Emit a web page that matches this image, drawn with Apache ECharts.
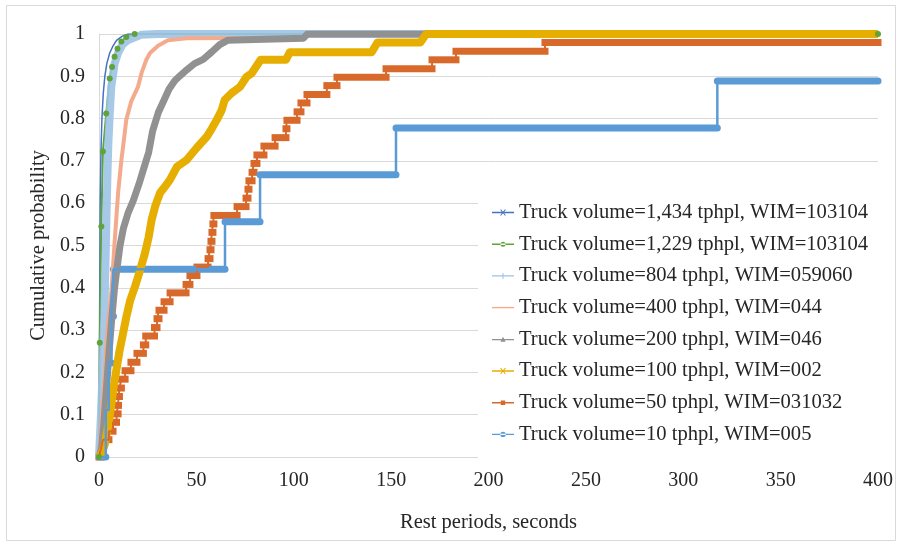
<!DOCTYPE html>
<html>
<head>
<meta charset="utf-8">
<script src="https://cdn.jsdelivr.net/npm/echarts@6/dist/echarts.min.js"></script>
<style>
  html, body { margin: 0; padding: 0; background: #fff; }
  #chart { width: 902px; height: 546px; }
</style>
</head>
<body>
<div id="chart"></div>
<script>
// Rest period (seconds) and cumulative probability for each truck volume.
const rest1434 = [0, 0.3, 0.6, 1, 1.5, 2.2, 3, 4, 5.5, 7, 9, 12, 15, 400];
const cdf1434  = [0, 0.32, 0.6, 0.72, 0.8, 0.86, 0.9, 0.93, 0.955, 0.97, 0.985, 0.995, 1, 1];

const rest1229 = [0, 0.4, 1.2, 2, 3.7, 5.5, 6.7, 8, 9.5, 11.5, 14, 18.3, 400];
const cdf1229  = [0, 0.27, 0.545, 0.722, 0.812, 0.895, 0.922, 0.946, 0.965, 0.982, 0.993, 1, 1];

const rest804 = [0, 1, 2, 2.8, 3.3, 3.8, 4.3, 4.8, 5.5, 6.3, 8, 9.8, 12, 15, 21.6, 30, 400];
const cdf804  = [0, 0.1, 0.22, 0.34, 0.45, 0.56, 0.66, 0.74, 0.81, 0.875, 0.93, 0.955, 0.975, 0.986, 0.998, 1, 1];

const rest400 = [0, 1.5, 3, 4.3, 6.3, 8, 9.8, 11.5, 12.8, 14, 16.5, 20, 22, 24.3, 26.2, 30.3, 35.4, 45, 105, 107, 400];
const cdf400  = [0, 0.1, 0.2, 0.3, 0.387, 0.506, 0.624, 0.702, 0.75, 0.797, 0.84, 0.875, 0.91, 0.939, 0.955, 0.972, 0.985, 0.99, 0.991, 1, 1];

const rest200 = [0, 1.3, 2.5, 3.9, 5.2, 6.5, 8, 9.2, 10.8, 12.5, 15, 17.5, 20.5, 23.5, 25.5, 27.5, 30.5, 33, 36, 39,
                 42, 45, 49, 53.5, 58, 62, 66, 80, 105, 107, 400];
const cdf200  = [0, 0.02, 0.08, 0.166, 0.25, 0.324, 0.4, 0.445, 0.5, 0.54, 0.578, 0.605, 0.645, 0.69, 0.72, 0.77, 0.815, 0.84, 0.87, 0.89,
                 0.903, 0.915, 0.93, 0.94, 0.958, 0.975, 0.985, 0.987, 0.99, 1, 1];

const rest100 = [0, 1.5, 3, 5.5, 7.5, 10.5, 14, 16, 18.5, 21, 23.6, 25.5, 27, 29, 31.3, 34, 36.4, 40, 45, 50,
                 55.3, 58, 60.5, 63, 64.5, 68, 72.4, 75.8, 78.4, 81, 83, 96, 98, 140, 143, 165, 168, 400];
const cdf100  = [0, 0.01, 0.03, 0.095, 0.166, 0.25, 0.33, 0.37, 0.403, 0.44, 0.482, 0.52, 0.56, 0.595, 0.624, 0.64, 0.655, 0.686, 0.702, 0.73,
                 0.757, 0.777, 0.797, 0.82, 0.844, 0.86, 0.875, 0.899, 0.907, 0.925, 0.939, 0.939, 0.957, 0.957, 0.98, 0.98, 1, 1];

// Step distributions: rest period at which each probability level starts.
const rest50 = [0, 1, 2, 5.1, 7.2, 9, 9.8, 10, 10.5, 11.5, 13.4, 16.4, 19.5, 22.8, 24, 28.5, 29.8, 30.8, 33.4, 36.5,
                44.7, 46.7, 50.3, 56, 57, 57.5, 58, 58.5, 59, 70.9, 75.5, 76.5, 77, 78.6, 79.6, 81.1, 84.7, 90.4, 96, 96.5,
                101.7, 103.7, 106.8, 117, 122.2, 147.4, 171, 183.3, 229];
const cdf50  = [0, 0.02, 0.041, 0.061, 0.082, 0.102, 0.122, 0.143, 0.163, 0.184, 0.204, 0.224, 0.245, 0.265, 0.286, 0.306, 0.327, 0.347, 0.367, 0.388,
                0.408, 0.429, 0.449, 0.469, 0.49, 0.51, 0.531, 0.551, 0.571, 0.592, 0.612, 0.633, 0.653, 0.673, 0.694, 0.714, 0.735, 0.755, 0.776, 0.796,
                0.816, 0.837, 0.857, 0.878, 0.898, 0.918, 0.939, 0.959, 0.98];

const rest10 = [0, 3.5, 5, 6.4, 7.4, 64.7, 82.7, 152.5, 317.5];
const cdf10  = [0, 0.111, 0.222, 0.333, 0.444, 0.556, 0.667, 0.778, 0.889];

const restMax = 400;

const seriesNames = [
  'Truck volume=1,434 tphpl, WIM=103104',
  'Truck volume=1,229 tphpl, WIM=103104',
  'Truck volume=804 tphpl, WIM=059060',
  'Truck volume=400 tphpl, WIM=044',
  'Truck volume=200 tphpl, WIM=046',
  'Truck volume=100 tphpl, WIM=002',
  'Truck volume=50 tphpl, WIM=031032',
  'Truck volume=10 tphpl, WIM=005'
];
const seriesColors = ['#4472C4', '#5FA33B', '#9DC3E6', '#F4AA8C', '#919191', '#E6AE00', '#D8692A', '#5B9BD5'];

// Legend glyphs: a line with the series marker in the middle.
const lineBar = 'M0,4.3h22v1.4h-22z';
const crossMark = 'M8,2h1.2l1.8,2.3l1.8,-2.3h1.2l-2.4,3l2.4,3h-1.2l-1.8,-2.3l-1.8,2.3h-1.2l2.4,-3z';
const legendIcons = [
  'path://' + lineBar + crossMark,
  'path://' + lineBar + 'M8.5,5a2.5,2.5 0 1,0 5,0a2.5,2.5 0 1,0 -5,0z',
  'path://' + lineBar + 'M10.5,2h1v6h-1z',
  'path://' + lineBar,
  'path://' + lineBar + 'M11,2.2L13.6,7.2L8.4,7.2z',
  'path://' + lineBar + crossMark,
  'path://' + lineBar + 'M8.8,2.8h4.4v4.4h-4.4z',
  'path://' + lineBar + 'M8.3,5a2.7,2.7 0 1,0 5.4,0a2.7,2.7 0 1,0 -5.4,0z'
];

const pairs = (xs, ys) => xs.map((x, i) => [x, ys[i]]);
const stepPairs = (xs, ys) => pairs(xs, ys).concat([[restMax, ys[ys.length - 1]]]);
// Each probability level as a run [from, to, level].
const levelRuns = (xs, ys) => xs.map((x, i) => [x, i + 1 < xs.length ? xs[i + 1] : restMax, ys[i]]);

const font = "'Liberation Serif', 'Times New Roman', serif";
const textColor = '#262626';
const gridColor = '#D9D9D9';

function curve(idx, xs, ys, width, extra) {
  return Object.assign({
    name: seriesNames[idx],
    type: 'line',
    data: pairs(xs, ys),
    showSymbol: false,
    symbol: 'none',
    color: seriesColors[idx],
    lineStyle: { width: width, color: seriesColors[idx], join: 'round' },
    emphasis: { disabled: true },
    silent: true
  }, extra || {});
}

// Dense markers along a step level drawn as one band.
function runBands(idx, xs, ys, thickness, rounded) {
  return {
    name: seriesNames[idx],
    type: 'custom',
    data: levelRuns(xs, ys),
    dimensions: ['from', 'to', 'level'],
    encode: { x: [0, 1], y: 2 },
    clip: false,
    silent: true,
    color: seriesColors[idx],
    renderItem: function (params, api) {
      const lvl = api.value(2);
      const a = api.coord([api.value(0), lvl]);
      const b = api.coord([api.value(1), lvl]);
      return {
        type: 'rect',
        shape: {
          x: a[0] - thickness / 2, y: a[1] - thickness / 2,
          width: b[0] - a[0] + thickness, height: thickness,
          r: rounded ? thickness / 2 : 0
        },
        style: { fill: seriesColors[idx] }
      };
    }
  };
}

const series = [
  curve(0, rest1434, cdf1434, 1.5),
  curve(1, rest1229, cdf1229, 2, {
    showSymbol: true, symbol: 'circle', symbolSize: 6,
    itemStyle: { color: seriesColors[1] }
  }),
  curve(2, rest804, cdf804, 8, { lineStyle: { width: 8, color: seriesColors[2], opacity: 0.9, join: 'round' } }),
  curve(3, rest400, cdf400, 4),
  curve(4, rest200, cdf200, 7),
  curve(5, rest100, cdf100, 8),
  // 50 tphpl: thin step line plus the marker bands along each level
  {
    name: seriesNames[6], type: 'line', step: 'end', data: stepPairs(rest50, cdf50),
    showSymbol: false, symbol: 'none', color: seriesColors[6],
    lineStyle: { width: 2, color: seriesColors[6] }, emphasis: { disabled: true }, silent: true
  },
  runBands(6, rest50, cdf50, 7, false),
  // 10 tphpl
  {
    name: seriesNames[7], type: 'line', step: 'end', data: stepPairs(rest10, cdf10),
    showSymbol: false, symbol: 'none', color: seriesColors[7],
    lineStyle: { width: 2.5, color: seriesColors[7] }, emphasis: { disabled: true }, silent: true
  },
  runBands(7, rest10, cdf10, 7, true)
];

const chart = echarts.init(document.getElementById('chart'), null, { renderer: 'canvas' });
chart.setOption({
  animation: false,
  backgroundColor: '#fff',
  textStyle: { fontFamily: font },
  grid: { left: 99, right: 24, top: 34, bottom: 89, containLabel: false, outerBoundsMode: 'none' },
  xAxis: {
    type: 'value', min: 0, max: restMax, interval: 50,
    name: 'Rest periods, seconds', nameLocation: 'middle', nameGap: 55,
    nameTextStyle: { fontFamily: font, fontSize: 20.5, color: textColor },
    axisLine: { show: true, lineStyle: { color: gridColor, width: 1 } },
    axisTick: { show: false },
    splitLine: { show: false },
    axisLabel: { fontFamily: font, fontSize: 20, color: textColor, margin: 14 }
  },
  yAxis: {
    type: 'value', min: 0, max: 1, interval: 0.1,
    name: 'Cumulative probability', nameLocation: 'middle', nameGap: 50, nameRotate: 90,
    nameTextStyle: { fontFamily: font, fontSize: 20.5, color: textColor },
    axisLine: { show: true, lineStyle: { color: gridColor, width: 1 } },
    axisTick: { show: false },
    splitLine: { show: true, lineStyle: { color: gridColor, width: 1 } },
    axisLabel: { fontFamily: font, fontSize: 20, color: textColor, margin: 14 }
  },
  legend: {
    orient: 'vertical', left: 478, top: 194,
    padding: [8, 16, 14, 14],
    itemGap: 10.7, itemWidth: 22, itemHeight: 10,
    backgroundColor: '#fff',
    selectedMode: false,
    itemStyle: { borderWidth: 0 },
    textStyle: { fontFamily: font, fontSize: 20.6, color: textColor, lineHeight: 20 },
    data: seriesNames.map((n, i) => ({ name: n, icon: legendIcons[i] }))
  },
  graphic: [{
    type: 'rect', silent: true, z: -10,
    shape: { x: 6.5, y: 5.5, width: 889, height: 535 },
    style: { fill: 'none', stroke: gridColor, lineWidth: 1 }
  }],
  series: series
});
</script>
</body>
</html>
